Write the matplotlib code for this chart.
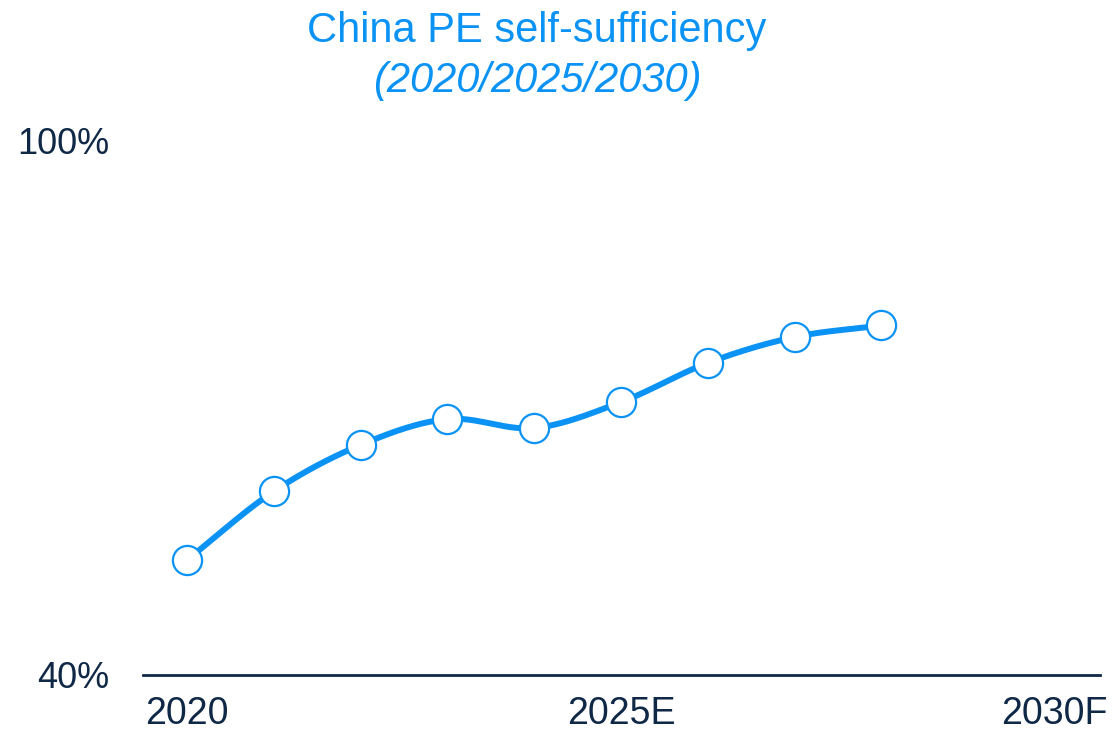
import numpy as np
import matplotlib
matplotlib.use("Agg")
import matplotlib.pyplot as plt

years = [2020, 2021, 2022, 2023, 2024, 2025, 2026, 2027, 2028]
self_suff = [52.9, 60.6, 65.8, 68.7, 67.7, 70.6, 75.0, 77.9, 79.2]
tick_years = [2020, 2025, 2030]
tick_labels = ["2020", "2025E", "2030F"]

BLUE = "#0a93f5"
NAVY = "#0f2846"

plt.rcParams["font.family"] = ["Liberation Sans", "DejaVu Sans"]


def smooth(x, y, n=30):
    # catmull-rom through the points, only for drawing the line
    x = np.asarray(x, float)
    y = np.asarray(y, float)
    px = np.concatenate([[2 * x[0] - x[1]], x, [2 * x[-1] - x[-2]]])
    py = np.concatenate([[2 * y[0] - y[1]], y, [2 * y[-1] - y[-2]]])
    xs, ys = [], []
    t = np.linspace(0, 1, n)
    for i in range(1, len(px) - 2):
        for p, out in ((px, xs), (py, ys)):
            p0, p1, p2, p3 = p[i - 1], p[i], p[i + 1], p[i + 2]
            out.extend(0.5 * (2 * p1 + (-p0 + p2) * t
                              + (2 * p0 - 5 * p1 + 4 * p2 - p3) * t ** 2
                              + (-p0 + 3 * p1 - 3 * p2 + p3) * t ** 3))
    return xs, ys


fig = plt.figure(figsize=(11.12, 7.35), dpi=100)
ax = fig.add_axes([143 / 1112, 60 / 735, 957 / 1112, 535 / 735])

sx, sy = smooth(years, self_suff)
ax.plot(sx, sy, color=BLUE, lw=4.3, solid_capstyle="round", zorder=2)
ax.plot(years, self_suff, "o", ms=21, mfc="white", mec=BLUE, mew=1.6, zorder=3)

ax.set_xlim(2019.493, 2030.52)
ax.set_ylim(40, 100)

for s in ["top", "right", "left"]:
    ax.spines[s].set_visible(False)
ax.spines["bottom"].set_color(NAVY)
ax.spines["bottom"].set_linewidth(2)

ax.set_xticks(tick_years)
ax.set_xticklabels(tick_labels)
ax.set_yticks([40, 100])
ax.set_yticklabels(["40%", "100%"])
ax.tick_params(length=0, colors=NAVY)
ax.tick_params(axis="y", pad=24, labelsize=26)
ax.tick_params(axis="x", pad=15, labelsize=27)

fig.text(537 / 1112, 1 - 31 / 735, "China PE self-sufficiency", color=BLUE,
         fontsize=30, ha="center", va="center")
fig.text(537 / 1112, 1 - 81 / 735, "(2020/2025/2030)", color=BLUE,
         fontsize=30, ha="center", va="center", style="italic")

fig.savefig("out.png", dpi=100)
